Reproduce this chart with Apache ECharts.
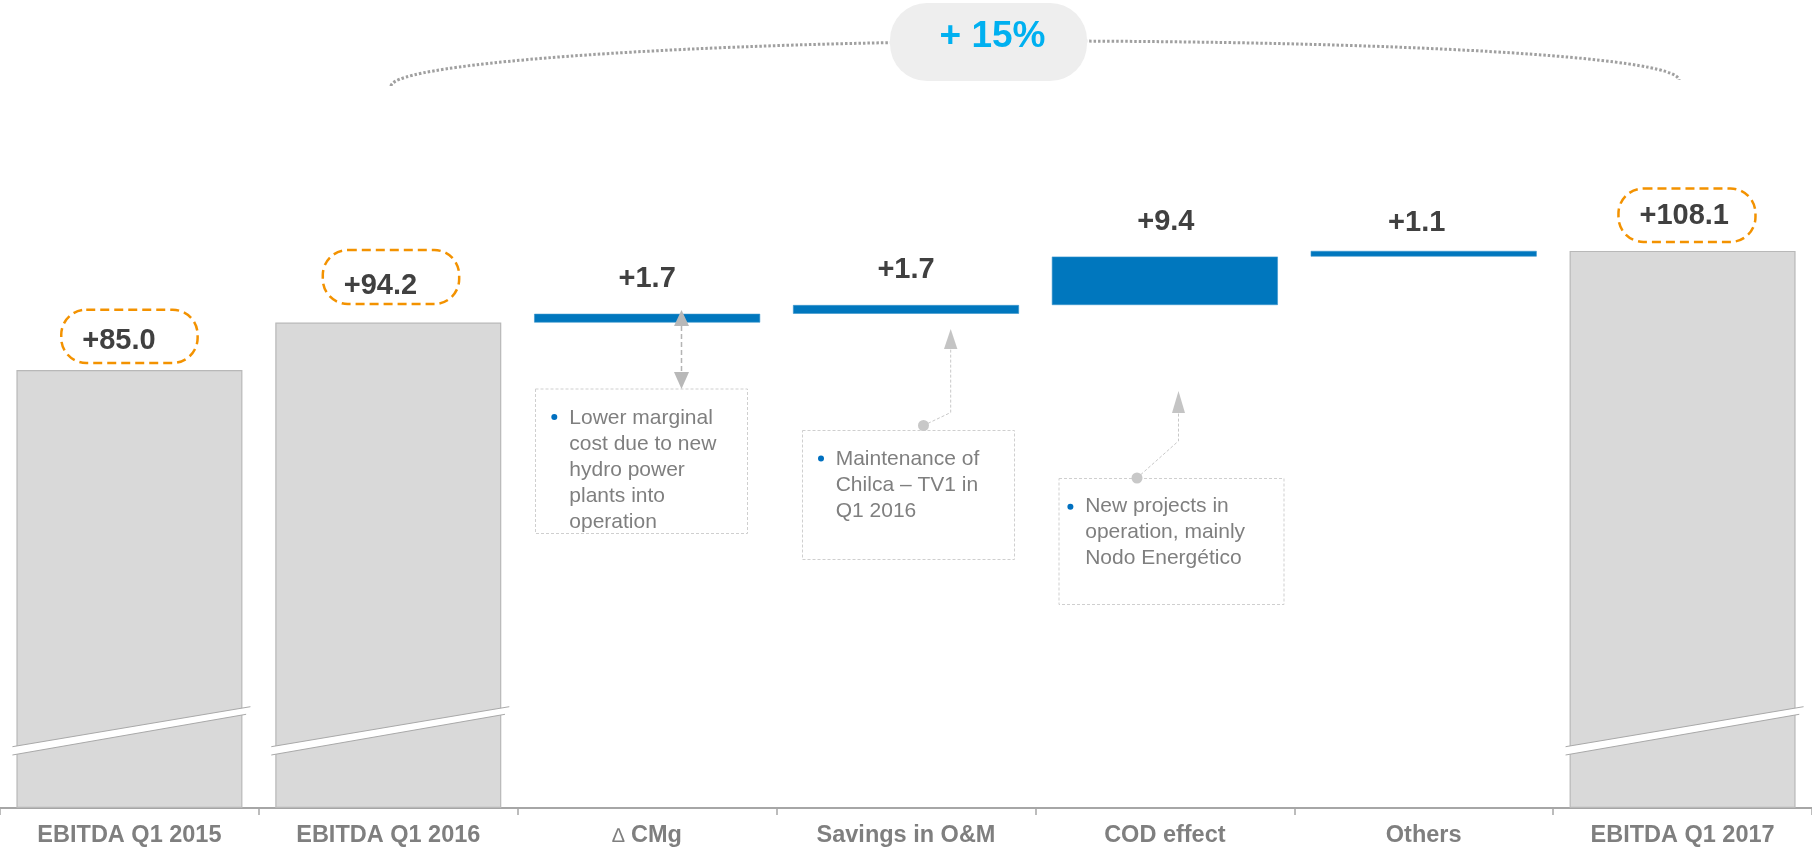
<!DOCTYPE html>
<html><head><meta charset="utf-8">
<script src="https://cdn.jsdelivr.net/npm/echarts@6/dist/echarts.min.js"></script>
<style>html,body{margin:0;padding:0;background:#fff;}#c{width:1812px;height:850px;}</style>
</head><body><div id="c"></div>
<script>
// ---------- data ----------
const categories = ['EBITDA Q1 2015', 'EBITDA Q1 2016', '∆ CMg', 'Savings in O&M', 'COD effect', 'Others', 'EBITDA Q1 2017'];
const totals = [85.0, 94.2, null, null, null, null, 108.1];
const deltas = [null, null, 1.7, 1.7, 9.4, 1.1, null];
const growthLabel = '+ 15%';
const notes = [
  ['Lower marginal', 'cost due to new', 'hydro power', 'plants into', 'operation'],
  ['Maintenance of', 'Chilca – TV1 in', 'Q1 2016'],
  ['New projects in', 'operation, mainly', 'Nodo Energético']
];

// ---------- derived waterfall base ----------
const base = [];
let running = 0;
for (let i = 0; i < categories.length; i++) {
  if (totals[i] != null) { running = totals[i]; base.push('-'); }
  else { base.push(running); running += deltas[i]; }
}

// ---------- styles ----------
const FONT = '"Liberation Sans", Arial, Helvetica, sans-serif';
const BAR_W = 226;
const totalLabelCfg = {
  0: { distance: 7, padding: [16.5, 42, 6.7, 21], offset: [0, 0] },
  1: { distance: 18.5, padding: [20.7, 42, 3.3, 21], offset: [2.7, 0] },
  6: { distance: 9, padding: [12.7, 26.5, 10.7, 21], offset: [4.4, 0] }
};
const deltaLabelCfg = {
  2: { distance: 20, offset: [0, 0] },
  3: { distance: 20, offset: [0, 0] },
  4: { distance: 19.5, offset: [1, 0] },
  5: { distance: 12.7, offset: [-7, 0] }
};

const totalData = totals.map((v, i) => v == null ? '-' : { value: v, label: totalLabelCfg[i] });
const deltaData = deltas.map((v, i) => v == null ? '-' : { value: v, label: deltaLabelCfg[i] });
const breakData = totals.map((v, i) => v == null ? null : [i, v]).filter(d => d);

// ---------- graphic decorations ----------
const ARC = { stroke: '#a0a0a0', lineWidth: 3, lineDash: [2.5, 2], fill: null };
const graphics = [];
// arc
graphics.push({ type: 'bezierCurve', z: 1, shape: { x1: 391, y1: 86, cpx1: 393, cpy1: 62, cpx2: 700, cpy2: 42, x2: 1035, y2: 41 }, style: ARC });
graphics.push({ type: 'bezierCurve', z: 1, shape: { x1: 1035, y1: 41, cpx1: 1390.7, cpy1: 41, cpx2: 1677, cpy2: 56, x2: 1679, y2: 80 }, style: ARC });
// pill
graphics.push({ type: 'rect', z: 2, shape: { x: 890, y: 3, width: 197, height: 78, r: 37 }, style: { fill: '#eeeeee' } });
graphics.push({ type: 'text', z: 3, style: { text: growthLabel, x: 992.5, y: 37, align: 'center', verticalAlign: 'middle',
  fontSize: 37, fontWeight: 'bold', fontFamily: FONT, fill: '#00b0f0' } });

// note boxes
const boxes = [
  { x: 535.5, y: 389, w: 212, h: 144.5, tx: 569.3, ty: 405, bx: 554.3, by: 417 },
  { x: 802.5, y: 430.5, w: 212, h: 129, tx: 835.7, ty: 446, bx: 821, by: 458.5 },
  { x: 1059, y: 478.5, w: 225, h: 126, tx: 1085.2, ty: 493.5, bx: 1070.4, by: 506.7 }
];
boxes.forEach((b, i) => {
  graphics.push({ type: 'rect', z: 10, shape: { x: b.x, y: b.y, width: b.w, height: b.h },
    style: { fill: null, stroke: '#cfcfcf', lineWidth: 1, lineDash: [3, 2] } });
  graphics.push({ type: 'circle', z: 11, shape: { cx: b.bx, cy: b.by, r: 3 }, style: { fill: '#0070c0' } });
  graphics.push({ type: 'text', z: 11, style: { text: notes[i].join('\n'), x: b.tx, y: b.ty, align: 'left', verticalAlign: 'top',
    fontSize: 21, lineHeight: 26, fontFamily: FONT, fill: '#7f7f7f' } });
});

// connectors
graphics.push({ type: 'line', z: 12, shape: { x1: 681.5, y1: 326, x2: 681.5, y2: 372 }, style: { stroke: '#b4b4b4', lineWidth: 1.5, lineDash: [5, 3] } });
graphics.push({ type: 'polygon', z: 12, shape: { points: [[681.5, 310], [674, 326], [689, 326]] }, style: { fill: '#b8b8b8' } });
graphics.push({ type: 'polygon', z: 12, shape: { points: [[681.5, 389], [674, 372], [689, 372]] }, style: { fill: '#b8b8b8' } });

graphics.push({ type: 'polyline', z: 12, shape: { points: [[923.5, 425.5], [950.7, 412.5], [950.7, 348]] }, style: { stroke: '#c8c8c8', lineWidth: 1, lineDash: [3, 2], fill: null } });
graphics.push({ type: 'polygon', z: 12, shape: { points: [[950.7, 329], [944, 349], [957.4, 349]] }, style: { fill: '#c4c4c4' } });
graphics.push({ type: 'circle', z: 12, shape: { cx: 923.5, cy: 425.5, r: 5.5 }, style: { fill: '#c8c8c8' } });

graphics.push({ type: 'polyline', z: 12, shape: { points: [[1137, 478], [1178.5, 441], [1178.5, 412]] }, style: { stroke: '#c8c8c8', lineWidth: 1, lineDash: [3, 2], fill: null } });
graphics.push({ type: 'polygon', z: 12, shape: { points: [[1178.5, 391], [1172, 413], [1185, 413]] }, style: { fill: '#c4c4c4' } });
graphics.push({ type: 'circle', z: 12, shape: { cx: 1137, cy: 478, r: 5.5 }, style: { fill: '#c8c8c8' } });

// ---------- chart ----------
const chart = echarts.init(document.getElementById('c'), null, { renderer: 'canvas' });
chart.setOption({
  animation: false,
  backgroundColor: '#ffffff',
  grid: { left: 0, right: 0, top: 35, bottom: 42, containLabel: false },
  xAxis: {
    type: 'category', data: categories,
    axisLine: { lineStyle: { color: '#a6a6a6', width: 2 } },
    axisTick: { show: true, length: 7, lineStyle: { color: '#a6a6a6', width: 1.5 } },
    axisLabel: {
      interval: 0, margin: 16, fontSize: 23.5, lineHeight: 24, fontWeight: 'bold', color: '#7f7f7f', fontFamily: FONT,
      formatter: v => v.startsWith('∆') ? '{d|∆} ' + v.slice(1).trim() : v,
      rich: { d: { fontSize: 20, fontWeight: 'normal', color: '#7f7f7f', fontFamily: FONT, lineHeight: 24 } }
    }
  },
  yAxis: { type: 'value', min: 0, max: 150, show: false, splitLine: { show: false } },
  series: [
    {
      name: 'EBITDA', type: 'bar', data: totalData, barWidth: BAR_W, barGap: '-100%', z: 2,
      itemStyle: { color: '#d9d9d9', borderColor: '#b8b8b8', borderWidth: 1.2 },
      label: {
        show: true, position: 'top', fontSize: 29, lineHeight: 30, fontWeight: 'bold', color: '#404040', fontFamily: FONT,
        formatter: p => '+' + Number(p.value).toFixed(1),
        borderColor: '#f39200', borderWidth: 2.5, borderType: [9, 5], borderRadius: 25
      }
    },
    {
      name: 'base', type: 'bar', stack: 'w', data: base, barWidth: BAR_W, silent: true,
      itemStyle: { color: 'transparent' }, label: { show: false }
    },
    {
      name: 'delta', type: 'bar', stack: 'w', data: deltaData, barWidth: BAR_W, z: 3,
      itemStyle: { color: '#0077be', borderColor: '#3a95cc', borderWidth: 0.6 },
      label: {
        show: true, position: 'top', fontSize: 29, lineHeight: 30, fontWeight: 'bold', color: '#404040', fontFamily: FONT,
        formatter: p => '+' + Number(p.value).toFixed(1)
      }
    },
    {
      name: 'break', type: 'custom', data: breakData, z: 6, silent: true,
      renderItem: (params, api) => {
        const c = api.coord([api.value(0), 0]);
        const L = c[0] - BAR_W / 2, R = c[0] + BAR_W / 2, y0 = c[1];
        const U1 = [L - 4, y0 - 61.3], U2 = [R + 8, y0 - 101.3];
        const D1 = [L - 4, y0 - 53], D2 = [R + 8, y0 - 94.4], D2v = [R + 3.7, y0 - 93.7];
        return {
          type: 'group', children: [
            { type: 'polygon', shape: { points: [U1, U2, D2, D1] }, style: { fill: '#ffffff' } },
            { type: 'line', shape: { x1: U1[0], y1: U1[1], x2: U2[0], y2: U2[1] }, style: { stroke: '#a9a9a9', lineWidth: 1 } },
            { type: 'line', shape: { x1: D1[0], y1: D1[1], x2: D2v[0], y2: D2v[1] }, style: { stroke: '#a9a9a9', lineWidth: 1 } }
          ]
        };
      }
    }
  ],
  graphic: { elements: graphics }
});
</script>
</body></html>
